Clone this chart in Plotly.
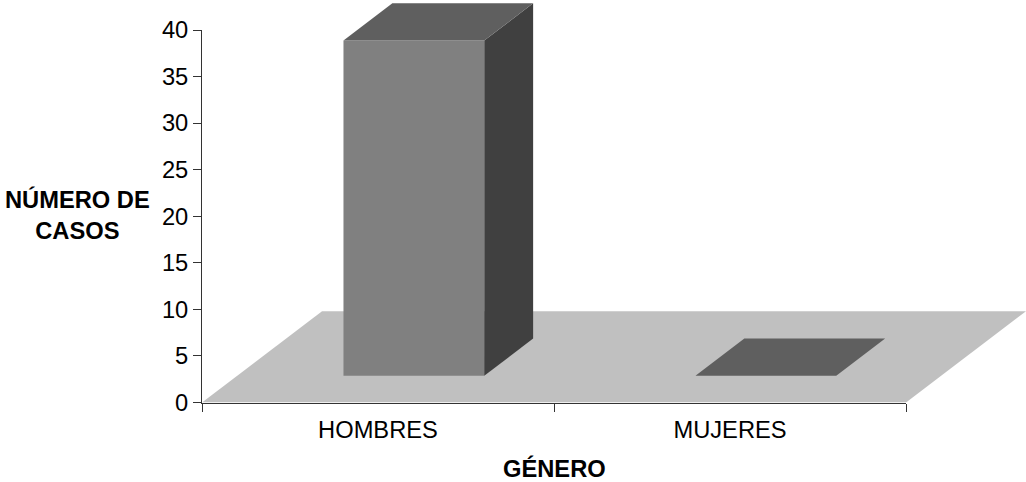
import plotly.graph_objects as go

categories = ["HOMBRES", "MUJERES"]
values = [36, 0]
y_ticks = [0, 5, 10, 15, 20, 25, 30, 35, 40]
x_title = "GÉNERO"
y_title = "NÚMERO DE<br>CASOS"

W, H = 1026, 482
FONT = "Liberation Sans, Arial, sans-serif"
FS = 23.7

# oblique projection of the pseudo-3D floor, in axis units
DEPTH_X, DEPTH_Y = 0.341, 9.8
BAR_WIDTH = 0.4
NEAR, FAR = 0.293, 0.70
BAR_SHIFT = 0.002

FLOOR = "#c0c0c0"
FRONT = "#808080"
TOP = "#5f5f5f"
SIDE = "#404040"


def poly(xs, ys, color, name):
    return go.Scatter(
        x=xs + xs[:1], y=ys + ys[:1], mode="lines", fill="toself", fillcolor=color,
        line=dict(width=0), hoverinfo="skip", showlegend=False, name=name,
        xaxis="x", yaxis="y",
    )


traces = []
n = len(categories)
traces.append(poly([0, n, n + DEPTH_X, DEPTH_X], [0, 0, DEPTH_Y, DEPTH_Y], FLOOR, "floor"))
for i, (cat, v) in enumerate(zip(categories, values)):
    x0 = i + 0.5 - BAR_WIDTH / 2 + NEAR * DEPTH_X + BAR_SHIFT
    x1 = x0 + BAR_WIDTH
    y0 = NEAR * DEPTH_Y
    dx = (FAR - NEAR) * DEPTH_X
    dy = (FAR - NEAR) * DEPTH_Y
    if v > 0:
        traces.append(poly([x0, x1, x1, x0], [y0, y0, y0 + v, y0 + v], FRONT, cat + " front"))
        traces.append(poly([x1, x1 + dx, x1 + dx, x1],
                           [y0, y0 + dy, y0 + dy + v, y0 + v], SIDE, cat + " side"))
    traces.append(poly([x0, x1, x1 + dx, x0 + dx],
                       [y0 + v, y0 + v, y0 + v + dy, y0 + v + dy], TOP, cat + " top"))

# carrier for the visible axes, drawn above the floor
traces.append(go.Scatter(
    x=[0.5, 1.5], y=values, mode="markers", marker=dict(opacity=0),
    hoverinfo="skip", showlegend=False, xaxis="x2", yaxis="y2",
))

fig = go.Figure(traces)

# pixel geometry of the plot
AX_L, AX_R, AX_TOP, AX_BOT = 202, 906, 30, 402.5
PX_X = (AX_R - AX_L) / n
PX_Y = (AX_BOT - AX_TOP) / 40

fig.update_layout(
    width=W, height=H, margin=dict(l=0, r=0, t=0, b=0),
    paper_bgcolor="white", plot_bgcolor="rgba(0,0,0,0)", showlegend=False,
    font=dict(family=FONT, size=FS, color="#000000"),
    xaxis=dict(domain=[AX_L / W, 1.0], range=[0, (W - AX_L) / PX_X], visible=False),
    yaxis=dict(domain=[(H - AX_BOT) / H, 1.0], range=[0, AX_BOT / PX_Y], visible=False),
    xaxis2=dict(
        domain=[AX_L / W, AX_R / W], range=[0, n], anchor="y2", automargin=False,
        showgrid=False, zeroline=False, showline=True, linecolor="#333333", linewidth=1,
        tickmode="array", tickvals=[0.5, 1.5], ticktext=categories, ticks="", ticklabelstandoff=6,
        minor=dict(tick0=0, dtick=1, ticks="outside", ticklen=8, tickcolor="#333333", tickwidth=1, showgrid=False),
    ),
    yaxis2=dict(
        domain=[(H - AX_BOT) / H, (H - AX_TOP) / H], range=[0, 40], anchor="x2", automargin=False,
        showgrid=False, zeroline=False, showline=True, linecolor="#333333", linewidth=1,
        tickmode="array", tickvals=y_ticks, ticks="outside", ticklen=8,
        tickcolor="#333333", tickwidth=1,
    ),
    annotations=[
        dict(text="<b>%s</b>" % y_title, xref="paper", yref="paper",
             x=77 / W, y=(H - 214.5) / H, xanchor="center", yanchor="middle",
             showarrow=False, font=dict(size=FS), align="center"),
        dict(text="<b>%s</b>" % x_title, xref="paper", yref="paper",
             x=554 / W, y=(H - 468) / H, xanchor="center", yanchor="middle",
             showarrow=False, font=dict(size=FS), align="center"),
    ],
)

fig.write_html("out.html", post_script="document.body.style.margin='0';",
               config=dict(displayModeBar=False))
